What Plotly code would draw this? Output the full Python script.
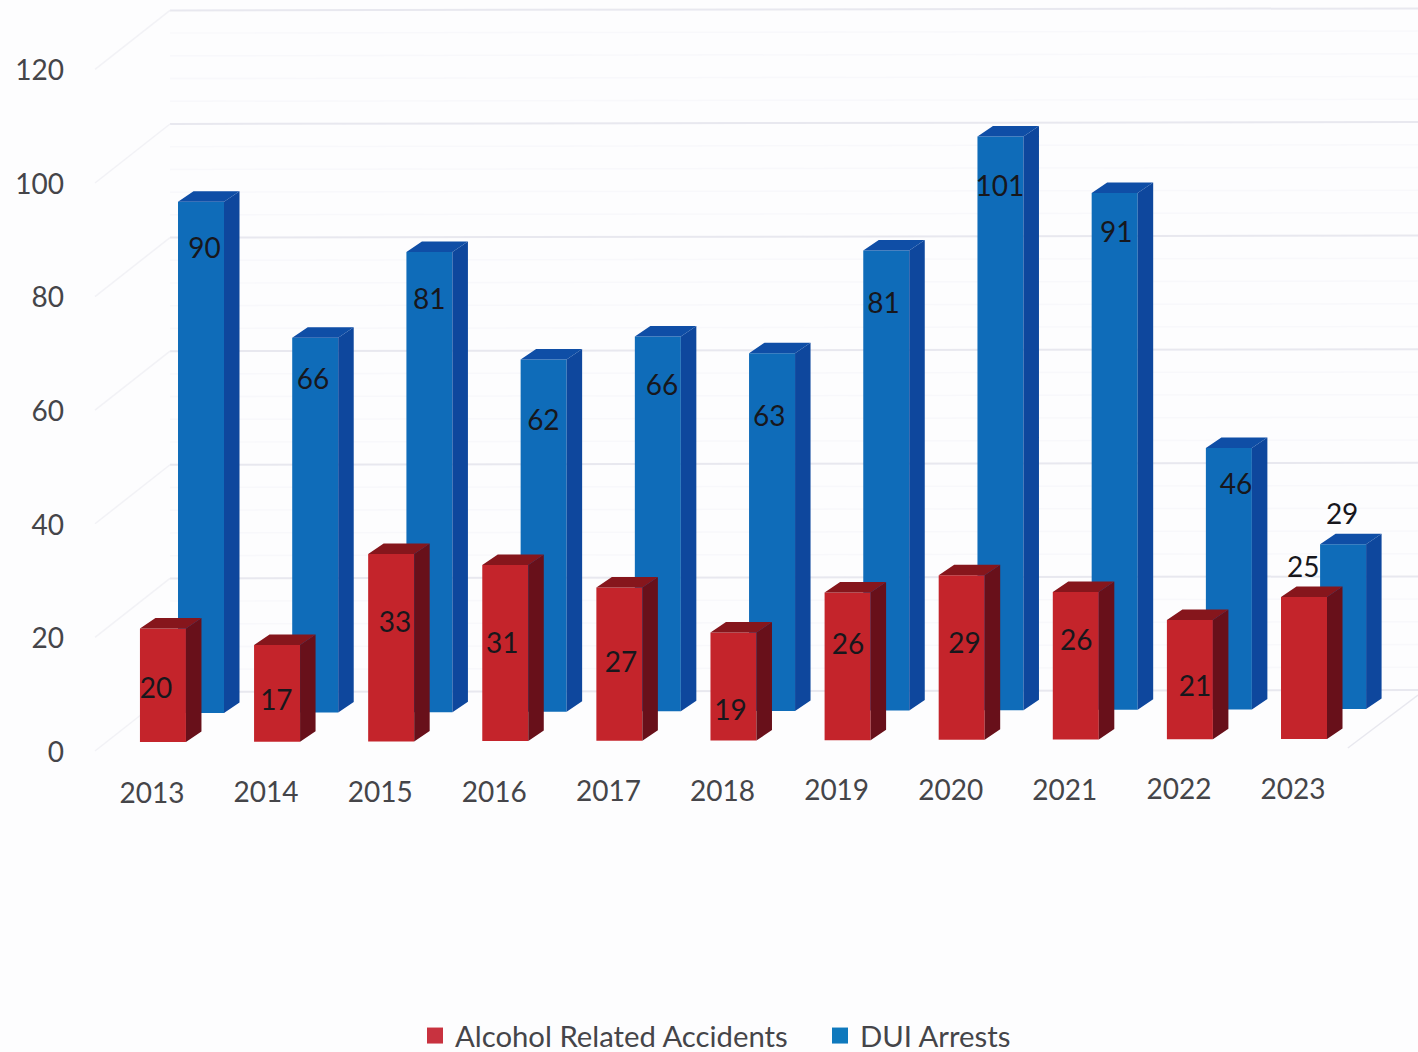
import plotly.graph_objects as go

years = ["2013","2014","2015","2016","2017","2018","2019","2020","2021","2022","2023"]
accidents = [20,17,33,31,27,19,26,29,26,21,25]
arrests = [90,66,81,62,66,63,81,101,91,46,29]
y_ticks = [0,20,40,60,80,100,120]
name_red = "Alcohol Related Accidents"
name_blue = "DUI Arrests"

# label placement in axis units (categories along x, values along y)
red_label_x = [0.035,1.09,2.13,3.07,4.11,5.07,6.10,7.12,8.10,9.14,10.09]
red_label_y = [10.7,8.7,22.3,18.7,15.4,6.9,18.5,18.7,19.1,11.1,32.0]
blue_label_x = [0.46,1.41,2.43,3.43,4.47,5.41,6.41,7.43,8.45,9.50,10.43]
blue_label_y = [88.2,65.2,79.2,58.0,64.0,58.7,78.6,99.1,91.0,46.6,41.3]

# projection constants of the pseudo-3D view, in axis units
CANVAS_H = 1062
PX_X = 114.1
PX_Y = 5.68
X_LEFT, X_RIGHT = -0.7011, 11.095
Y_HIGH = 132.39
Y_LOW = Y_HIGH - CANVAS_H / PX_Y
BAR_W = 46 / PX_X
DX = 15.5 / PX_X
DY = 10.5 / PX_Y
RED_X0, BLUE_X0, BLUE_STEP = 0.096, 0.4295, 1.0009
RED_BASE, RED_TILT = 1.76, 0.053
BLUE_BASE, BLUE_TILT = 6.87, 0.07

C_RED, C_RED_SIDE, C_RED_TOP = "#c4242b", "#68101a", "#86161c"
C_BLUE, C_BLUE_SIDE, C_BLUE_TOP = "#0f6cb9", "#0e479d", "#0f4ea6"
C_AXIS, C_LABEL = "#454549", "#17171c"
FONT = "Lato, 'Open Sans', sans-serif"


def faces(xc, base, val):
    sx, sy, tx, ty = [], [], [], []
    for c, b, v in zip(xc, base, val):
        r, l, t = c + BAR_W / 2, c - BAR_W / 2, b + v
        sx += [r, r + DX, r + DX, r, r, None]
        sy += [b, b + DY, t + DY, t, b, None]
        tx += [l, l + DX, r + DX, r, l, None]
        ty += [t, t + DY, t + DY, t, t, None]
    return sx, sy, tx, ty


def series(xc, base, val, front, side, top, xa, ya):
    sx, sy, tx, ty = faces(xc, base, val)
    common = dict(mode="lines", fill="toself", line=dict(width=0), hoverinfo="skip",
                  showlegend=False, xaxis=xa, yaxis=ya)
    return [
        go.Bar(x=xc, y=val, base=base, width=BAR_W, marker=dict(color=front, line=dict(width=0)),
               showlegend=False, xaxis=xa, yaxis=ya, hovertemplate="%{y}<extra></extra>"),
        go.Scatter(x=sx, y=sy, fillcolor=side, **common),
        go.Scatter(x=tx, y=ty, fillcolor=top, **common),
    ]


n = range(len(years))
red_x = [RED_X0 + i for i in n]
red_b = [RED_BASE + RED_TILT * i for i in n]
blue_x = [BLUE_X0 + BLUE_STEP * i for i in n]
blue_b = [BLUE_BASE + BLUE_TILT * i for i in n]

fig = go.Figure()
fig.add_traces(series(blue_x, blue_b, arrests, C_BLUE, C_BLUE_SIDE, C_BLUE_TOP, "x", "y"))
fig.add_traces(series(red_x, red_b, accidents, C_RED, C_RED_SIDE, C_RED_TOP, "x2", "y2"))

# data labels
fig.add_trace(go.Scatter(x=red_label_x + blue_label_x, y=red_label_y + blue_label_y,
                         text=[str(v) for v in accidents + arrests], mode="text",
                         textfont=dict(family=FONT, size=28, color=C_LABEL),
                         textposition="middle center", showlegend=False, hoverinfo="skip",
                         xaxis="x2", yaxis="y2"))
# year labels
fig.add_trace(go.Scatter(x=[1.0 * i for i in n], y=[-7.7 + 0.07 * i for i in n], text=years,
                         mode="text", textfont=dict(family=FONT, size=28, color=C_AXIS),
                         textposition="middle center", showlegend=False, hoverinfo="skip",
                         xaxis="x2", yaxis="y2"))
# legend keys
for nm, col in ((name_red, "#c8323f"), (name_blue, "#0f79bd")):
    fig.add_trace(go.Scatter(x=[None], y=[None], name=nm, mode="markers",
                             marker=dict(symbol="square", size=18, color=col), xaxis="x2", yaxis="y2"))

# walls: gridlines on the left wall and the back wall
WALL_X0, WALL_X1 = (95 - 152) / PX_X, (170 - 152) / PX_X
BACK_OFF = 60 / PX_Y
FRONT_OFF = 1.0 / PX_Y
shapes = []
for v in range(0, 121, 4):
    major = v in y_ticks
    col = "#e8e8ef" if major else "#f8f8fb"
    w = 2 if major else 1.5
    yb = v + BACK_OFF
    shapes.append(dict(type="line", xref="x", yref="y", layer="below", x0=WALL_X1, x1=X_RIGHT,
                       y0=yb, y1=yb + 0.35, line=dict(color=col, width=w)))
    if major:
        shapes.append(dict(type="line", xref="x", yref="y", layer="below", x0=WALL_X0, x1=WALL_X1,
                           y0=v + FRONT_OFF, y1=yb, line=dict(color="#f2f2f6", width=1.5)))
shapes.append(dict(type="line", xref="x", yref="y", layer="below", x0=10.48, x1=X_RIGHT,
                   y0=0.7, y1=10.0, line=dict(color="#e8e8ef", width=1.5)))

axis_x = dict(range=[X_LEFT, X_RIGHT], domain=[72 / 1418, 1], showgrid=False, zeroline=False,
              showline=False, showticklabels=False, ticks="", fixedrange=True)
axis_y = dict(range=[Y_LOW, Y_HIGH], domain=[0, 1], showgrid=False, zeroline=False, showline=False,
              fixedrange=True)
fig.update_layout(
    width=1418, height=CANVAS_H, margin=dict(l=0, r=0, t=0, b=0),
    paper_bgcolor="#fdfdfe", plot_bgcolor="rgba(0,0,0,0)",
    barmode="overlay", shapes=shapes, hovermode=False,
    font=dict(family=FONT, color=C_AXIS),
    xaxis=axis_x,
    yaxis=dict(**axis_y, tickmode="array", tickvals=y_ticks, ticktext=[str(t) for t in y_ticks],
               tickfont=dict(family=FONT, size=28, color=C_AXIS), ticks="", ticklabelstandoff=7),
    xaxis2=dict(**axis_x, overlaying="x"),
    yaxis2=dict(**axis_y, overlaying="y", showticklabels=False, ticks=""),
    legend=dict(orientation="h", x=415 / 1418, xanchor="left", y=0, yanchor="bottom",
                font=dict(family=FONT, size=29.3, color=C_AXIS), itemsizing="trace",
                entrywidth=360, entrywidthmode="pixels",
                bgcolor="rgba(0,0,0,0)", itemclick=False, itemdoubleclick=False),
)
fig.write_html("out.html", config=dict(displayModeBar=False),
               post_script="document.body.style.margin='0';document.documentElement.style.overflow='hidden';")
